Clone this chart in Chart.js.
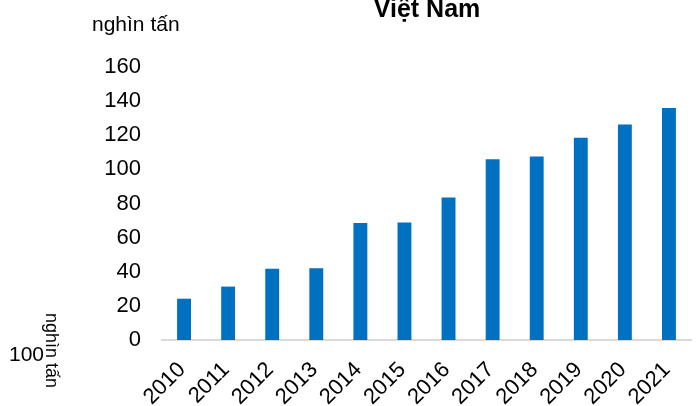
<!DOCTYPE html>
<html>
<head>
<meta charset="utf-8">
<script src="https://cdn.jsdelivr.net/npm/chart.js@4.4.1/dist/chart.umd.min.js"></script>
<style>
  html, body { margin: 0; padding: 0; background: #ffffff; }
  #wrap { position: relative; width: 696px; height: 406px; }
</style>
</head>
<body>
<div id="wrap"><canvas id="chart" width="696" height="406"></canvas></div>
<script>
// Sản lượng theo năm (nghìn tấn)
const years = ['2010', '2011', '2012', '2013', '2014', '2015', '2016', '2017', '2018', '2019', '2020', '2021'];
const production = [24.2, 31.3, 41.8, 42.0, 68.5, 68.9, 83.5, 106.0, 107.5, 118.5, 126.3, 136.0];
const yTicks = [0, 20, 40, 60, 80, 100, 120, 140, 160];

const chartTitle = 'Việt Nam';
const unitLabel = 'nghìn tấn';
const cornerNumber = '100';

const FONT = '"Liberation Sans", Arial, sans-serif';

// Chữ chú thích phụ: tiêu đề, đơn vị
const annotations = {
  id: 'annotations',
  afterDraw(chart) {
    const ctx = chart.ctx;
    ctx.save();
    ctx.fillStyle = '#000000';
    ctx.textBaseline = 'alphabetic';

    ctx.font = 'bold 25px ' + FONT;
    ctx.textAlign = 'center';
    ctx.fillText(chartTitle, 427, 17);

    ctx.font = '21px ' + FONT;
    ctx.textAlign = 'left';
    ctx.fillText(unitLabel, 92, 31);

    ctx.font = '21px ' + FONT;
    ctx.fillText(cornerNumber, 9, 361);

    ctx.save();
    ctx.translate(46, 313);
    ctx.rotate(Math.PI / 2);
    ctx.font = '18px ' + FONT;
    ctx.fillText(unitLabel, 0, 0);
    ctx.restore();

    ctx.restore();
  }
};

new Chart(document.getElementById('chart'), {
  type: 'bar',
  data: {
    labels: years,
    datasets: [{
      data: production,
      backgroundColor: '#0070C0',
      borderWidth: 0,
      barPercentage: 0.315,
      categoryPercentage: 1.0
    }]
  },
  options: {
    responsive: false,
    animation: false,
    devicePixelRatio: 1,
    layout: { padding: { top: 67, right: 5, bottom: 0, left: 0 } },
    plugins: {
      legend: { display: false },
      title: { display: false },
      tooltip: { enabled: false }
    },
    scales: {
      y: {
        min: 0,
        max: 160,
        afterBuildTicks(scale) { scale.ticks = yTicks.map(v => ({ value: v })); },
        afterFit(scale) { scale.width = 162; },
        grid: { display: false, drawTicks: false },
        border: { display: false },
        ticks: {
          padding: 21,
          color: '#000000',
          font: { family: FONT, size: 22 }
        }
      },
      x: {
        afterFit(scale) {
          scale.height = 66;
          scale.paddingLeft = 0;
          scale.paddingRight = 0;
        },
        grid: { display: false, drawTicks: false },
        border: { display: true, color: '#d9d9d9', width: 2 },
        ticks: {
          minRotation: 45,
          maxRotation: 45,
          padding: 17,
          labelOffset: -2,
          color: '#000000',
          font: { family: FONT, size: 22 }
        }
      }
    }
  },
  plugins: [annotations]
});
</script>
</body>
</html>
